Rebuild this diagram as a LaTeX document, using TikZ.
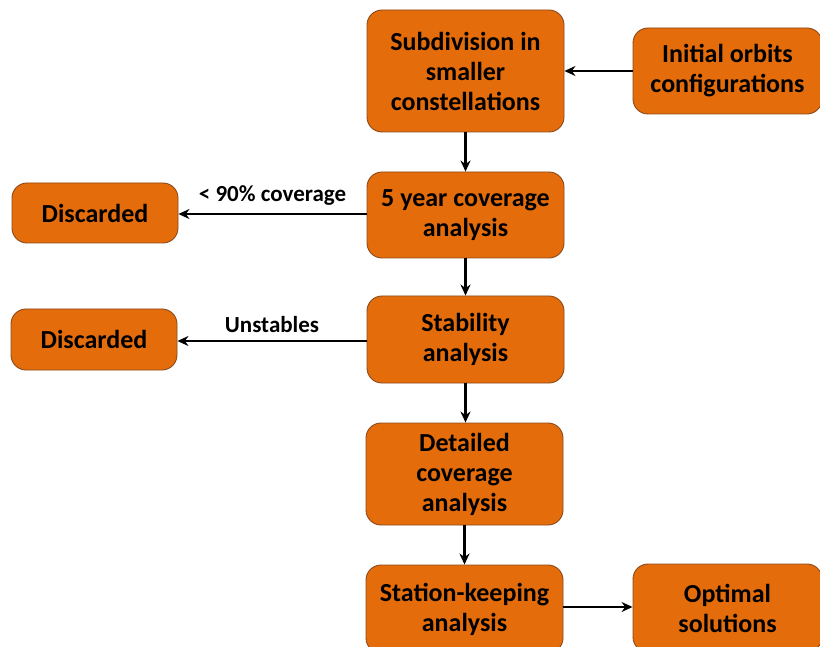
\documentclass[tikz,border=0pt]{standalone}
\usepackage{fontspec}
\setmainfont{Carlito}
\usetikzlibrary{arrows.meta}
\definecolor{boxfill}{HTML}{E46C0A}
\definecolor{boxline}{HTML}{8A4A1C}
\begin{document}
\begin{tikzpicture}[x=1pt,y=-1pt,
  procbox/.style={draw=boxline, line width=0.9pt, fill=boxfill, rounded corners=15pt,
    align=center, font=\fontsize{26}{30}\selectfont\bfseries, inner sep=0pt},
  flow/.style={line width=2.4pt, -{Stealth[length=11pt,width=10pt]}},
  flowlabel/.style={font=\fontsize{23}{26}\selectfont\bfseries}]
\useasboundingbox (0,0) rectangle (820,647);
\clip (0,0) rectangle (820,647);
\fill[white] (0,0) rectangle (820,647);

% main column
\node[procbox, minimum width=197pt, minimum height=122pt] (sub) at (465.5,71)
  {Subdivision in\\smaller\\constellations};
\node[procbox, minimum width=197pt, minimum height=86pt] (cov) at (465.5,215)
  {5 year coverage\\analysis};
\node[procbox, minimum width=197pt, minimum height=87pt] (stab) at (465.5,339.5)
  {Stability\\analysis};
\node[procbox, minimum width=197pt, minimum height=102pt] (det) at (464.5,474)
  {Detailed\\coverage\\analysis};
\node[procbox, minimum width=197pt, minimum height=88pt] (sk) at (464.5,609)
  {Station-keeping\\analysis};

% side boxes
\node[procbox, minimum width=189pt, minimum height=86pt] (init) at (727.5,71)
  {Initial orbits\\configurations};
\node[procbox, minimum width=166pt, minimum height=60pt] (disc1) at (95,213)
  {Discarded};
\node[procbox, minimum width=166pt, minimum height=61pt] (disc2) at (94,339.5)
  {Discarded};
\node[procbox, minimum width=189pt, minimum height=88pt] (opt) at (727.5,608)
  {Optimal\\solutions};

% connectors
\draw[flow] (init.west) -- (sub.east);
\draw[flow] (sub.south) -- (cov.north);
\draw[flow] (cov.south) -- (stab.north);
\draw[flow] (stab.south) -- (stab.south |- det.north);
\draw[flow] (det.south) -- (det.south |- sk.north);
\draw[flow] (sk.east |- 0,607) -- (opt.west |- 0,607);
\draw[flow] (cov.west |- 0,214) -- node[flowlabel, above=4pt] {< 90\% coverage} (disc1.east |- 0,214);
\draw[flow] (stab.west |- 0,341) -- node[flowlabel, above=4pt] {Unstables} (disc2.east |- 0,341);
\end{tikzpicture}
\end{document}
